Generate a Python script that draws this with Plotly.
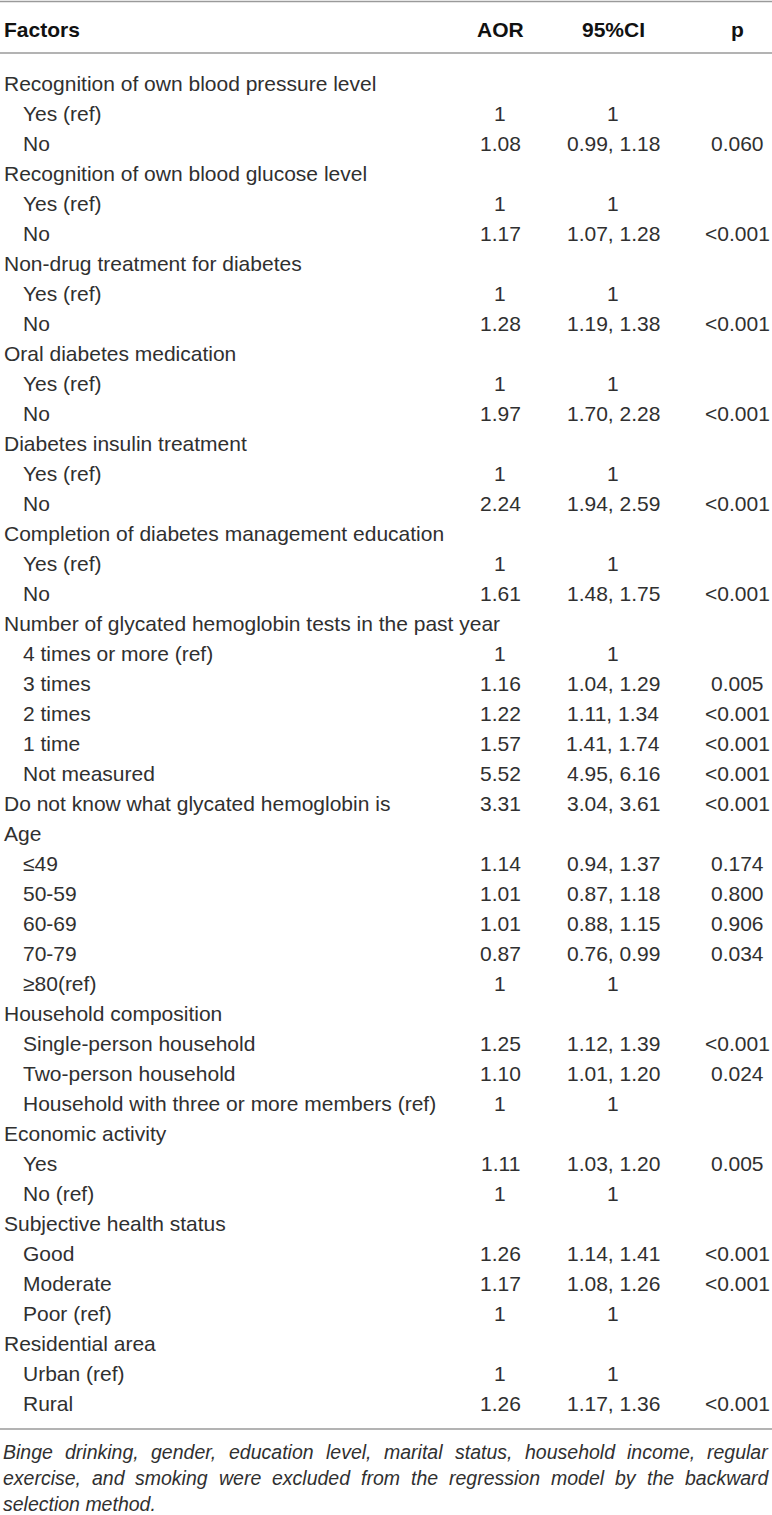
import plotly.graph_objects as go

headers = ["Factors", "AOR", "95%CI", "p"]

factors = [
    "Recognition of own blood pressure level", "Yes (ref)", "No",
    "Recognition of own blood glucose level", "Yes (ref)", "No",
    "Non-drug treatment for diabetes", "Yes (ref)", "No",
    "Oral diabetes medication", "Yes (ref)", "No",
    "Diabetes insulin treatment", "Yes (ref)", "No",
    "Completion of diabetes management education", "Yes (ref)", "No",
    "Number of glycated hemoglobin tests in the past year", "4 times or more (ref)",
    "3 times", "2 times", "1 time", "Not measured",
    "Do not know what glycated hemoglobin is",
    "Age", "≤49", "50-59", "60-69", "70-79", "≥80(ref)",
    "Household composition", "Single-person household", "Two-person household",
    "Household with three or more members (ref)",
    "Economic activity", "Yes", "No (ref)",
    "Subjective health status", "Good", "Moderate", "Poor (ref)",
    "Residential area", "Urban (ref)", "Rural",
]
indent = [
    0, 1, 1, 0, 1, 1, 0, 1, 1, 0, 1, 1, 0, 1, 1, 0, 1, 1,
    0, 1, 1, 1, 1, 1, 0,
    0, 1, 1, 1, 1, 1,
    0, 1, 1, 1,
    0, 1, 1,
    0, 1, 1, 1,
    0, 1, 1,
]
aor = [
    "", "1", "1.08", "", "1", "1.17", "", "1", "1.28", "", "1", "1.97",
    "", "1", "2.24", "", "1", "1.61",
    "", "1", "1.16", "1.22", "1.57", "5.52", "3.31",
    "", "1.14", "1.01", "1.01", "0.87", "1",
    "", "1.25", "1.10", "1",
    "", "1.11", "1",
    "", "1.26", "1.17", "1",
    "", "1", "1.26",
]
ci = [
    "", "1", "0.99, 1.18", "", "1", "1.07, 1.28", "", "1", "1.19, 1.38", "", "1", "1.70, 2.28",
    "", "1", "1.94, 2.59", "", "1", "1.48, 1.75",
    "", "1", "1.04, 1.29", "1.11, 1.34", "1.41, 1.74", "4.95, 6.16", "3.04, 3.61",
    "", "0.94, 1.37", "0.87, 1.18", "0.88, 1.15", "0.76, 0.99", "1",
    "", "1.12, 1.39", "1.01, 1.20", "1",
    "", "1.03, 1.20", "1",
    "", "1.14, 1.41", "1.08, 1.26", "1",
    "", "1", "1.17, 1.36",
]
pval = [
    "", "", "0.060", "", "", "<0.001", "", "", "<0.001", "", "", "<0.001",
    "", "", "<0.001", "", "", "<0.001",
    "", "", "0.005", "<0.001", "<0.001", "<0.001", "<0.001",
    "", "0.174", "0.800", "0.906", "0.034", "",
    "", "<0.001", "0.024", "",
    "", "0.005", "",
    "", "<0.001", "<0.001", "",
    "", "", "<0.001",
]
footnote_lines = [
    "Binge drinking, gender, education level, marital status, household income, regular",
    "exercise, and smoking were excluded from the regression model by the backward",
    "selection method.",
]

W, H = 772, 1515
FONT = "Liberation Sans, Arial, Helvetica, sans-serif"
TXT = "#303030"
BODY = 21
FOOT = 19.5

# Helvetica/Arial advance widths (per 1000 em) for footnote justification
AW = {" ": 278, ",": 278, ".": 278, "B": 667}
AW.update({c: w for c, w in zip("abcdefghijklmnopqrstuvwxyz",
          [556, 556, 500, 556, 556, 278, 556, 556, 222, 222, 500, 222, 833,
           556, 556, 556, 556, 333, 500, 278, 556, 500, 722, 500, 500, 500])})


def text_w(s, size):
    return sum(AW.get(c, 556) for c in s) * size / 1000.0


fig = go.Figure()
ann = []
col_x = {"AOR": 500, "CI": 613, "p": 737}
hdr_y = 29
row0, dy = 83, 30


def txt(x, y, text, anchor, size=BODY, color=TXT):
    return dict(x=x, y=y, text=text, xanchor=anchor, xref="x", yref="y",
                yanchor="middle", showarrow=False, borderpad=0,
                font=dict(family=FONT, size=size, color=color))


ann.append(txt(3, hdr_y, "<b>Factors</b>", "left", color="#111111"))
ann.append(txt(col_x["AOR"], hdr_y, "<b>AOR</b>", "center", color="#111111"))
ann.append(txt(col_x["CI"], hdr_y, "<b>95%CI</b>", "center", color="#111111"))
ann.append(txt(col_x["p"], hdr_y, "<b>p</b>", "center", color="#111111"))

for i, lab in enumerate(factors):
    y = row0 + i * dy
    ann.append(txt(3 + 19 * indent[i], y, lab, "left"))
    if aor[i]:
        ann.append(txt(col_x["AOR"], y, aor[i], "center"))
    if ci[i]:
        ann.append(txt(col_x["CI"], y, ci[i], "center"))
    if pval[i]:
        ann.append(txt(col_x["p"], y, pval[i], "center"))

# footnote, justified lines (except the last)
foot_y0, foot_dy = 1452, 26
left, right = 2, 767
for li, line in enumerate(footnote_lines):
    y = foot_y0 + li * foot_dy
    words = line.split(" ")
    if li < len(footnote_lines) - 1 and len(words) > 1:
        ww = [text_w(w, FOOT) for w in words]
        gap = (right - left - sum(ww)) / (len(words) - 1)
        x = left
        for w, wv in zip(words, ww):
            ann.append(txt(x, y, f"<i>{w}</i>", "left", size=FOOT))
            x += wv + gap
    else:
        ann.append(txt(left, y, f"<i>{line}</i>", "left", size=FOOT))

shapes = []
for yl in (1.5, 53, 1429):
    shapes.append(dict(type="line", xref="x", yref="y", x0=0, x1=W, y0=yl, y1=yl,
                       line=dict(color="#9a9a9a", width=1.6)))

fig.update_layout(
    width=W, height=H,
    margin=dict(l=0, r=0, t=0, b=0),
    paper_bgcolor="white", plot_bgcolor="white",
    xaxis=dict(range=[0, W], visible=False, fixedrange=True),
    yaxis=dict(range=[H, 0], visible=False, fixedrange=True),
    annotations=ann, shapes=shapes, showlegend=False,
)
fig.write_html("out.html", config={"displayModeBar": False},
               post_script="document.body.style.margin='0';document.body.style.overflow='hidden';")
